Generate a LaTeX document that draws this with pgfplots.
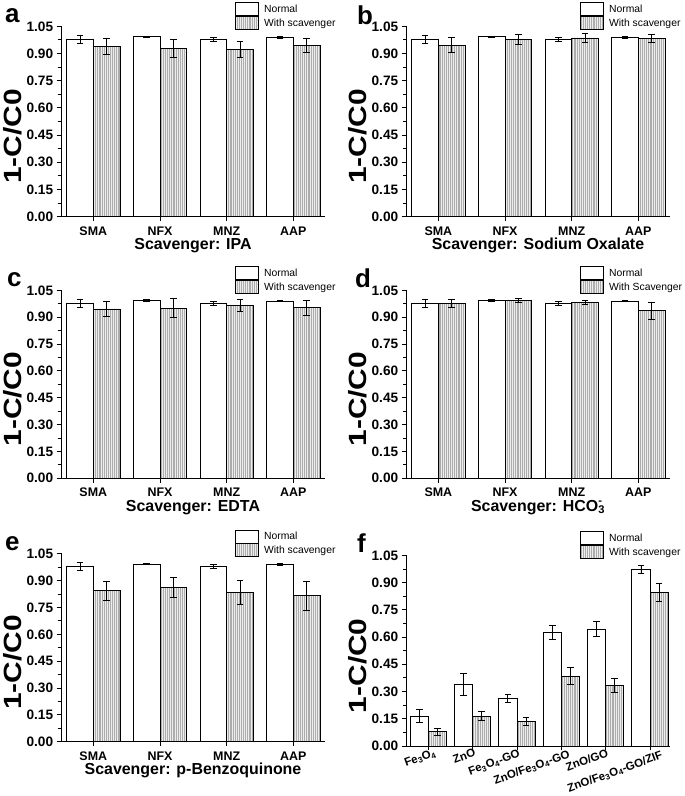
\documentclass[border=0pt]{standalone}
\usepackage{graphicx}
\usepackage{pgfplots}
\pgfplotsset{compat=1.18}
\usepackage{fontspec}
\setmainfont{Liberation Sans}
\usetikzlibrary{patterns.meta}

\tikzset{
  plabel/.style={font=\fontsize{26}{28}\selectfont\bfseries, anchor=base west, inner sep=0pt},
  flab/.style={font=\fontsize{11.5}{13}\selectfont\bfseries, rotate=20, anchor=north east, inner sep=0pt},
}

\pgfplotsset{
  panel/.style={
    scale only axis, width=264bp,
    ybar,
    ymin=0, ymax=1.052,
    ytick={0,0.15,0.3,0.45,0.6,0.75,0.9,1.05},
    minor y tick num=1,
    y tick label style={/pgf/number format/fixed, /pgf/number format/fixed zerofill, /pgf/number format/precision=2},
    /pgf/number format/assume math mode=true,
    axis lines*=left,
    axis line style={line width=0.9bp, black},
    tick align=outside,
    ytick pos=left, xtick pos=bottom,
    major tick length=4.3bp, minor tick length=3bp,
    every tick/.style={line width=0.9bp, black},
    x tick label style={font=\fontsize{12.5}{14}\selectfont\bfseries, inner sep=0pt, yshift=-5.3bp},
    y tick label style={font=\fontsize{13.7}{15}\selectfont\bfseries},
    ylabel={\scalebox{1.2}[1]{1-C/C0}},
    ylabel style={font=\fontsize{25}{28}\selectfont\bfseries, at={(axis description cs:-0.181,0.42)}, anchor=center},
    xlabel style={font=\fontsize{16}{18}\selectfont\bfseries, at={(axis description cs:0.5,0)}, anchor=north, inner sep=0pt, yshift=-21.5bp},
    legend style={draw=none, fill=none, inner sep=0pt, row sep=0pt, column sep=4.7bp,
      font=\fontsize{10.4}{12}\selectfont, at={(0.659,1)}, anchor=north west, yshift=24bp,
      nodes={inner sep=0pt}},
    legend cell align=left,
    legend image code/.code={\draw[##1] (0bp,-6.5bp) rectangle (23.3bp,6.5bp);},
    clip=false,
  },
  fourcat/.style={
    xmin=0.515, xmax=4.475,
    xtick={1,2,3,4}, xticklabels={SMA,NFX,MNZ,AAP},
    bar width=0.4,
  },
  errs/.style={error bars/.cd, y dir=both, y explicit,
    error bar style={line width=0.9bp, black},
    error mark options={rotate=90, mark size=3.3bp, line width=0.9bp, black}},
  nbar/.style={fill=white, draw=black, line width=0.9bp, bar shift=-#1, errs},
  sbar/.style={fill=gray!14, draw=black, line width=0.9bp, bar shift=#1,
    postaction={pattern={Lines[angle=90,distance=1.9bp,line width=0.6bp]}, pattern color=gray!65},
    errs},
}

\begin{document}
\begin{tikzpicture}
\path (0,0) rectangle (685bp,796bp);

% ---------- a ----------
\begin{axis}[panel, fourcat, height=190.7bp, at={(61bp,579.3bp)}, anchor=south west,
  xlabel={Scavenger: IPA}]
\addplot[nbar=0.2] coordinates {(1,0.977) +- (0,0.023) (2,0.993) +- (0,0.004) (3,0.978) +- (0,0.012) (4,0.990) +- (0,0.004)};
\addplot[sbar=0.2] coordinates {(1,0.938) +- (0,0.044) (2,0.929) +- (0,0.051) (3,0.925) +- (0,0.044) (4,0.943) +- (0,0.038)};
\legend{Normal, With scavenger}
\node[plabel] at ([xshift=-56bp,yshift=3.3bp]rel axis cs:0,1) {a};
\end{axis}

% ---------- b ----------
\begin{axis}[panel, fourcat, height=190.7bp, at={(406bp,579.3bp)}, anchor=south west,
  xlabel={Scavenger: Sodium Oxalate}]
\addplot[nbar=0.2] coordinates {(1,0.977) +- (0,0.023) (2,0.993) +- (0,0.004) (3,0.978) +- (0,0.012) (4,0.990) +- (0,0.004)};
\addplot[sbar=0.2] coordinates {(1,0.947) +- (0,0.040) (2,0.978) +- (0,0.028) (3,0.986) +- (0,0.023) (4,0.982) +- (0,0.021)};
\legend{Normal, With scavenger}
\node[plabel] at ([xshift=-49bp,yshift=1bp]rel axis cs:0,1) {b};
\end{axis}

% ---------- c ----------
\begin{axis}[panel, fourcat, height=188.3bp, at={(61bp,317.7bp)}, anchor=south west,
  xlabel={Scavenger: EDTA}]
\addplot[nbar=0.2] coordinates {(1,0.977) +- (0,0.023) (2,0.993) +- (0,0.004) (3,0.978) +- (0,0.012) (4,0.990) +- (0,0.004)};
\addplot[sbar=0.2] coordinates {(1,0.946) +- (0,0.044) (2,0.950) +- (0,0.054) (3,0.965) +- (0,0.035) (4,0.953) +- (0,0.043)};
\legend{Normal, With scavenger}
\node[plabel] at ([xshift=-54bp,yshift=3.3bp]rel axis cs:0,1) {c};
\end{axis}

% ---------- d ----------
\begin{axis}[panel, fourcat, height=188.3bp, at={(406bp,317.7bp)}, anchor=south west,
  xlabel={Scavenger: HCO\rlap{\textsuperscript{-}}\textsubscript{3}}]
\addplot[nbar=0.2] coordinates {(1,0.977) +- (0,0.023) (2,0.993) +- (0,0.004) (3,0.978) +- (0,0.012) (4,0.990) +- (0,0.004)};
\addplot[sbar=0.2] coordinates {(1,0.978) +- (0,0.021) (2,0.994) +- (0,0.009) (3,0.983) +- (0,0.011) (4,0.935) +- (0,0.050)};
\legend{Normal, With Scavenger}
\node[plabel] at ([xshift=-51bp,yshift=2.3bp]rel axis cs:0,1) {d};
\end{axis}

% ---------- e ----------
\begin{axis}[panel, fourcat, height=188.3bp, at={(61bp,54.3bp)}, anchor=south west,
  xlabel={Scavenger: p-Benzoquinone}]
\addplot[nbar=0.2] coordinates {(1,0.977) +- (0,0.023) (2,0.993) +- (0,0.004) (3,0.978) +- (0,0.012) (4,0.990) +- (0,0.004)};
\addplot[sbar=0.2] coordinates {(1,0.844) +- (0,0.054) (2,0.861) +- (0,0.054) (3,0.836) +- (0,0.067) (4,0.816) +- (0,0.081)};
\legend{Normal, With scavenger}
\node[plabel] at ([xshift=-56bp,yshift=3.3bp]rel axis cs:0,1) {e};
\end{axis}

% ---------- f ----------
\begin{axis}[panel, height=191bp, at={(406bp,50bp)}, anchor=south west,
  xmin=0.497, xmax=6.45, xtick={1,2,3,4,5,6}, xticklabels={}, bar width=0.41]
\addplot[nbar=0.205] coordinates {(1,0.165) +- (0,0.038) (2,0.338) +- (0,0.059) (3,0.262) +- (0,0.023) (4,0.626) +- (0,0.040) (5,0.644) +- (0,0.041) (6,0.973) +- (0,0.022)};
\addplot[sbar=0.205] coordinates {(1,0.078) +- (0,0.020) (2,0.165) +- (0,0.027) (3,0.135) +- (0,0.024) (4,0.384) +- (0,0.046) (5,0.335) +- (0,0.039) (6,0.845) +- (0,0.050)};
\legend{Normal, With scavenger}
\node[plabel] at ([xshift=-49bp,yshift=2bp]rel axis cs:0,1) {f};
\node[flab] at ([xshift=5.5bp,yshift=-2bp]axis cs:1,0) {Fe\textsubscript{3}O\textsubscript{4}};
\node[flab] at ([xshift=1bp,yshift=-2bp]axis cs:2,0) {ZnO};
\node[flab] at ([xshift=1bp,yshift=-3bp]axis cs:3,0) {Fe\textsubscript{3}O\textsubscript{4}-GO};
\node[flab] at ([xshift=6.5bp,yshift=-3bp]axis cs:4,0) {ZnO/Fe\textsubscript{3}O\textsubscript{4}-GO};
\node[flab] at ([xshift=0.5bp,yshift=-2bp]axis cs:5,0) {ZnO/GO};
\node[flab] at ([xshift=10.5bp,yshift=-4bp]axis cs:6,0) {ZnO/Fe\textsubscript{3}O\textsubscript{4}-GO/ZIF};
\end{axis}
\end{tikzpicture}
\end{document}
